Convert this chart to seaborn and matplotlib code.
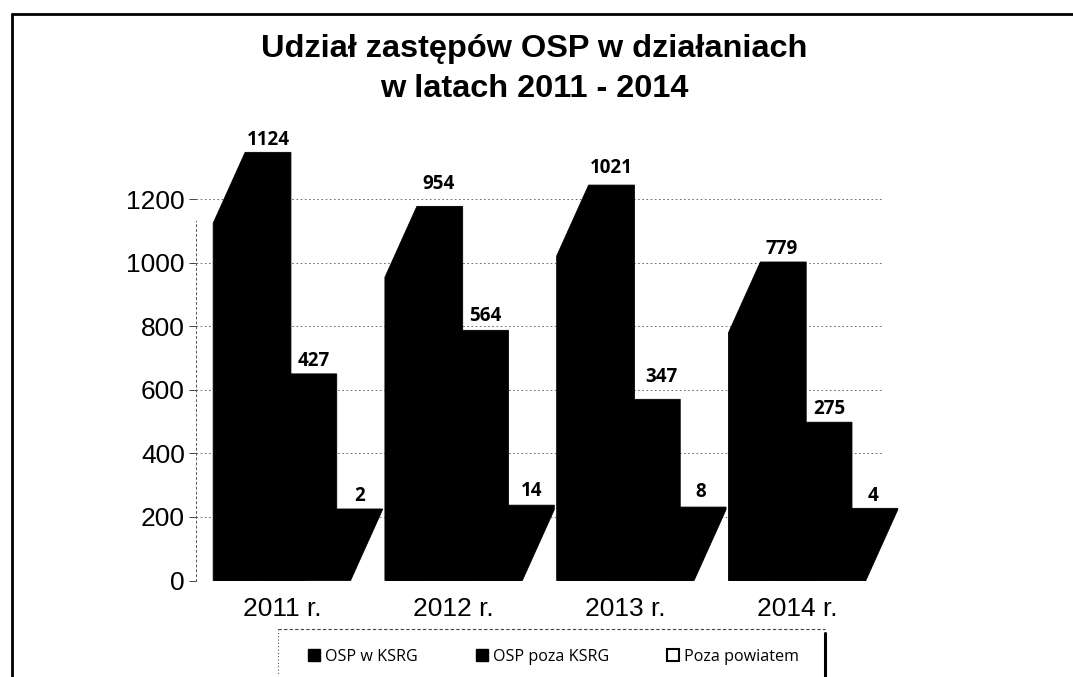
import pandas as pd
import matplotlib
matplotlib.use('Agg')
import matplotlib.pyplot as plt
from matplotlib.lines import Line2D
from matplotlib.patches import Patch
import seaborn as sns

years = ['2011 r.', '2012 r.', '2013 r.', '2014 r.']
series_names = ['OSP w KSRG', 'OSP poza KSRG', 'Poza powiatem']
osp_w_ksrg = [1124, 954, 1021, 779]
osp_poza_ksrg = [427, 564, 347, 275]
poza_powiatem = [2, 14, 8, 4]
y_ticks = [0, 200, 400, 600, 800, 1000, 1200]
title = 'Udział zastępów OSP w działaniach\nw latach 2011 - 2014'

sns.set_theme(style='white', rc={'text.color': 'black', 'xtick.color': 'black', 'ytick.color': 'black'})
plt.rcParams['font.family'] = ['Liberation Sans', 'DejaVu Sans']

W, H = 1073, 677
depth_x = 32 / 172  # category units
depth_y = 223       # value units

# hand nudges for the value labels, in points, same order as df
label_nudge = [(0, 0), (-1, 7), (0, 3), (-1, 0),
               (0, 0), (0, 1), (3, 7), (0, 0),
               (0, 0), (0, 1), (-2, 2), (-1, 0)]

df = pd.DataFrame({
    'year': years * 3,
    'series': [s for s in series_names for _ in years],
    'n': osp_w_ksrg + osp_poza_ksrg + poza_powiatem,
})

fig = plt.figure(figsize=(W / 100, H / 100), dpi=100)
ax = fig.add_axes([196 / W, 1 - 580.5 / H, (883 - 196) / W, 445 / H])

sns.barplot(data=df, x='year', y='n', hue='series', hue_order=series_names,
            palette=['black'] * 3, width=0.8, gap=0, saturation=1,
            legend=False, ax=ax)

# the "3d" silhouette and labels come from the bars seaborn drew
for bar, val, nudge in zip(ax.patches, df['n'], label_nudge):
    x0, x1, h = bar.get_x(), bar.get_x() + bar.get_width(), bar.get_height()
    ax.fill([x0, x0, x0 + depth_x, x1 + depth_x, x1 + depth_x, x1],
            [0, h, h + depth_y, h + depth_y, depth_y, 0],
            facecolor='black', edgecolor='black', lw=0.6, clip_on=False, zorder=3)
    ax.annotate(str(val), xy=((x0 + x1) / 2 + depth_x, h + depth_y),
                xytext=(nudge[0], 2 + nudge[1]), textcoords='offset points', ha='center', va='bottom',
                fontsize=13.5, fontweight='bold', family='Open Sans', zorder=4)

ax.set_xlim(-0.5, 3.5)
ax.set_ylim(0, 1400)
ax.set_yticks(y_ticks)
ax.set_xlabel('')
ax.set_ylabel('')
ax.set_axisbelow(True)
ax.yaxis.grid(True, color='#555555', lw=0.6, ls=(0, (2, 3)))
ax.xaxis.grid(False)
ax.tick_params(axis='y', labelsize=19, length=5, width=0.7, color='#444444', pad=3, left=True)
ax.tick_params(axis='x', labelsize=19, length=0, pad=12)
for s in ['top', 'right', 'bottom']:
    ax.spines[s].set_visible(False)
ax.spines['left'].set_color('#555555')
ax.spines['left'].set_linewidth(0.7)
ax.spines['left'].set_linestyle((0, (2, 3)))
ax.spines['left'].set_bounds(0, 1130)

fig.text(534 / W, 1 - 69 / H, title, ha='center', va='center', fontsize=23.4,
         fontweight='bold', linespacing=1.42)

handles = [Patch(facecolor='black', edgecolor='black'),
           Patch(facecolor='black', edgecolor='black'),
           Patch(facecolor='white', edgecolor='black', lw=1.5)]
fig.legend(handles, series_names, ncol=3, loc='center left',
           bbox_to_anchor=(308 / W, 1 - 657 / H), frameon=False, borderaxespad=0, borderpad=0,
           prop={'family': 'Open Sans', 'size': 11.6},
           handlelength=0.75, handleheight=0.75, handletextpad=0.3, columnspacing=3.6)


def frame_line(xs, ys, **kw):
    fig.add_artist(Line2D([x / W for x in xs], [1 - y / H for y in ys], **kw))


# page frame, cut off by the scan at right and bottom
frame_line([12, 12], [14, 677], color='black', lw=2)
frame_line([12, 1073], [14, 14], color='black', lw=2)
# legend box
frame_line([278, 825], [629, 629], color='#444444', lw=0.8, ls=(0, (3, 2)))
frame_line([278, 278], [629, 675], color='#555555', lw=0.8, ls=(0, (1, 2)))
frame_line([825, 825], [633, 677], color='black', lw=2.2)

fig.savefig('out.png', dpi=100)
